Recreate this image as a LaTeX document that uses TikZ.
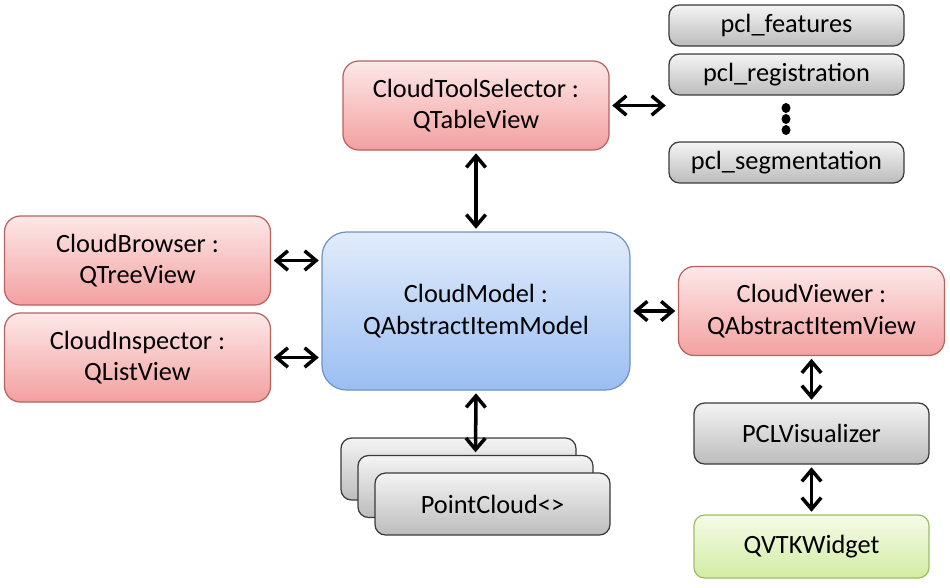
\documentclass[tikz,border=0pt]{standalone}
\usepackage{fontspec}
\setmainfont{Carlito}
\usetikzlibrary{arrows.meta,positioning}
\definecolor{rtop}{HTML}{FDE8E8}
\definecolor{rbot}{HTML}{F3A0A0}
\definecolor{rline}{HTML}{B8625E}
\definecolor{gtop}{HTML}{F4F4F4}
\definecolor{gbot}{HTML}{BCBCBC}
\definecolor{gline}{HTML}{3A3A3A}
\definecolor{btop}{HTML}{E2ECFB}
\definecolor{bbot}{HTML}{9ABEF2}
\definecolor{bline}{HTML}{6E93C8}
\definecolor{ltop}{HTML}{F6FBE8}
\definecolor{lbot}{HTML}{D2ECA2}
\definecolor{lline}{HTML}{9DBE68}
\newcommand\cfont{\fontsize{15}{18}\selectfont}
\tikzset{
  viewb/.style={draw=rline,top color=rtop,bottom color=rbot,rounded corners=9pt,line width=0.7pt,align=center,font=\cfont,minimum width=5.32cm,minimum height=1.78cm,inner sep=2pt},
  libb/.style={draw=gline,top color=gtop,bottom color=gbot,rounded corners=6pt,line width=0.7pt,align=center,font=\cfont,minimum width=4.7cm,minimum height=0.82cm,inner sep=2pt},
  modelb/.style={draw=bline,top color=btop,bottom color=bbot,rounded corners=14pt,line width=0.7pt,align=center,font=\cfont,minimum width=6.16cm,minimum height=3.16cm,inner sep=2pt},
  widgb/.style={draw=lline,top color=ltop,bottom color=lbot,rounded corners=6pt,line width=0.7pt,align=center,font=\cfont,minimum width=4.7cm,minimum height=1.26cm,inner sep=2pt},
  arr/.style={{Straight Barb[length=6.5pt,width=11pt]}-{Straight Barb[length=6.5pt,width=11pt]},line width=2pt,shorten <=1.5pt,shorten >=1.5pt},
}
\begin{document}
\begin{tikzpicture}
  \useasboundingbox (0,0) rectangle (19,-11.74);
  % model and its views
  \node[modelb] (model) at (9.52,-6.22) {CloudModel :\\QAbstractItemModel};
  \node[viewb] (sel) at (9.52,-2.11) {CloudToolSelector :\\QTableView};
  \node[viewb] (brow) at (2.75,-5.21) {CloudBrowser :\\QTreeView};
  \node[viewb] (insp) at (2.75,-7.15) {CloudInspector :\\QListView};
  \node[viewb] (view) at (16.23,-6.22) {CloudViewer :\\QAbstractItemView};
  % pcl libraries
  \node[libb] (feat) at (15.73,-0.51) {pcl\_features};
  \node[libb] (reg) at (15.73,-1.49) {pcl\_registration};
  \node[libb] (seg) at (15.73,-3.25) {pcl\_segmentation};
  \foreach \y in {-2.16,-2.38,-2.6} { \fill (15.72,\y) ellipse (0.09 and 0.1); }
  \coordinate (pcl) at (reg.west |- sel.east);
  % point clouds
  \node[libb,minimum height=1.24cm] (pc1) at (9.17,-9.38) {};
  \node[libb,minimum height=1.24cm] (pc2) at (9.51,-9.73) {};
  \node[libb,minimum height=1.24cm] (pc3) at (9.85,-10.08) {PointCloud<>};
  % visualizer chain
  \node[libb,minimum height=1.22cm] (vis) at (16.23,-8.67) {PCLVisualizer};
  \node[widgb] (qvtk) at (16.23,-10.93) {QVTKWidget};
  % connections
  \draw[arr] (sel) -- (pcl);
  \draw[arr] (sel) -- (model);
  \draw[arr] (brow.east) -- (brow.east -| model.west);
  \draw[arr] (insp.east) -- (insp.east -| model.west);
  \draw[arr] (model) -- (view);
  \draw[arr] (model.south) -- (pc2.north);
  \draw[arr] (view) -- (vis);
  \draw[arr] (vis) -- (qvtk);
\end{tikzpicture}
\end{document}
